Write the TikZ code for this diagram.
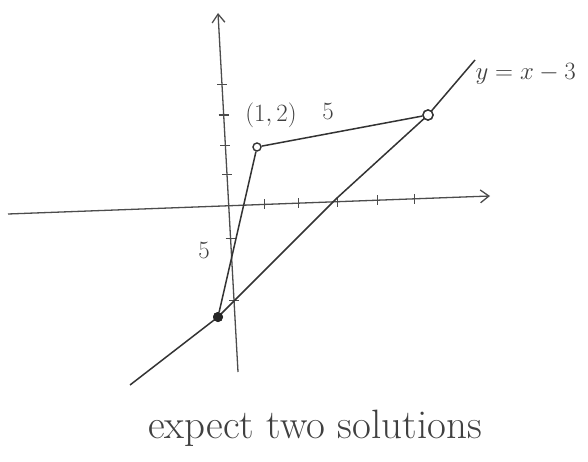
\documentclass[tikz,border=0pt]{standalone}
\usepackage{amsmath}
\usepackage{tikz}
\usetikzlibrary{
  arrows.meta,
  calc
}
\tikzset{
  sketch axis/.style={
    line width=1.3pt,
    draw=black!70,
    -{Straight Barb[length=3mm,width=4.5mm]}
  },
  sketch line/.style={
    line width=1.5pt,
    draw=black!80
  },
  axis tick/.style={
    line width=1.1pt,
    draw=black!70
  },
  open point/.style={
    circle,
    draw=black!80,
    line width=1.4pt,
    fill=white,
    inner sep=0pt,
    minimum size=8pt
  },
  solid point/.style={
    circle,
    fill=black!85,
    inner sep=0pt,
    minimum size=10pt
  },
  hand label/.style={
    font=\fontsize{27}{32}\selectfont,
    text=black!75
  }
}

\begin{document}
\begin{tikzpicture}[x=1pt,y=-1pt]

    \fill[white] (0,0) rectangle (588,462);
    \useasboundingbox (0,0) rectangle (588,462);

    % ---------- axes ----------
    \coordinate (xl) at (8,214);
    \coordinate (xr) at (490,196);
    \coordinate (yb) at (238,372);
    \coordinate (yt) at (218,13);

    \draw[sketch axis] (xl) -- (xr);
    \draw[sketch axis] (yb) -- (yt);

    % tick marks
    \foreach \t in {0.533,0.602,0.683,0.766,0.844}
      \draw[axis tick] ($(xl)!\t!(xr)$) ++(0,-5) -- ++(0,10);
    \foreach \t in {0.20,0.373,0.549,0.632,0.716,0.80}
      \draw[axis tick] ($(yb)!\t!(yt)$) ++(-5,0) -- ++(10,0);

    % ---------- the points ----------
    \node[solid point] (Q) at (218,317) {};
    \node[open point] (P) at (257,147) {};
    \node[open point, minimum size=10pt] (R) at (428,115) {};

    % ---------- the line y=x-3 ----------
    \coordinate (lb) at (130,385);
    \coordinate (lm) at (337,198);
    \coordinate (lt) at (475,60);
    \draw[sketch line] (lb) -- (Q.center) -- (lm) -- (R.center) -- (lt);
    \node[hand label, anchor=west] (eq) at (472,74) {$y=x-3$};

    % ---------- the two distances ----------
    \draw[sketch line] (P) -- (R);
    \draw[sketch line] (P) -- (Q);
    \node[solid point] at (Q) {};
    \node[open point, minimum size=10pt] at (R) {};

    \node[hand label] (Plab) at (271,115) {$(1,2)$};
    \node[hand label] (dR) at (328,111) {$5$};
    \node[hand label] (dQ) at (204,250) {$5$};

    % ---------- note ----------
    \node[hand label, font=\fontsize{41}{48}\selectfont] (note)
      at (315,428) {expect two solutions};

  \end{tikzpicture}
\end{document}
